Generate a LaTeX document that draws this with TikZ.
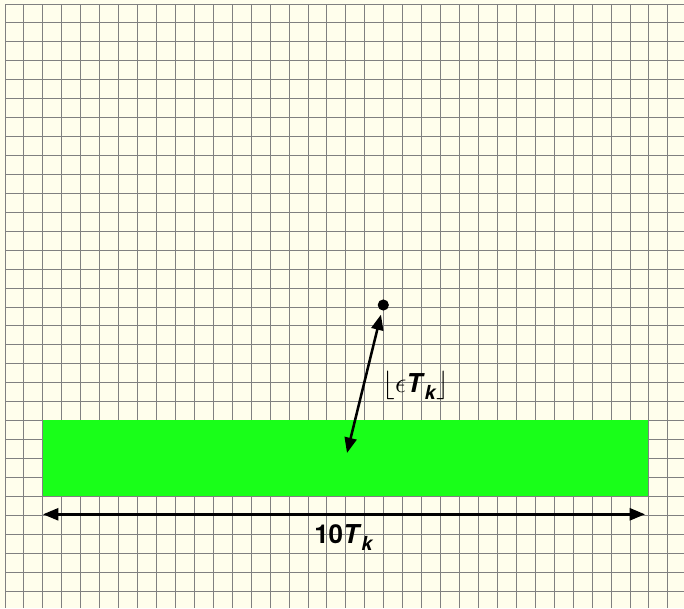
\RequirePackage{fix-cm}
\documentclass[tikz,border=0pt]{standalone}
\usepackage{fontspec}
\setmainfont{TeX Gyre Heros}
\usetikzlibrary{arrows.meta}
\definecolor{paper}{RGB}{255,254,236}
\definecolor{bandgreen}{RGB}{25,255,25}
\definecolor{gridgray}{RGB}{128,128,128}
\newcommand{\largemath}[1]{{\fontsize{21.5}{25}\selectfont$#1$}}
\begin{document}
\begin{tikzpicture}[x=0.75pt,y=-0.75pt,
  gridline/.style={draw=gridgray,line width=0.75pt},
  dimarrow/.style={line width=1.9pt,{Triangle[length=11.5pt,width=9pt]}-{Triangle[length=11.5pt,width=9pt]}},
  lbl/.style={inner sep=0pt,anchor=base west,font=\fontsize{19.5}{23}\selectfont}]
\useasboundingbox (0,0) rectangle (684,608);
\fill[paper] (0,0) rectangle (684,608);
\foreach \k in {0,...,35}
  \draw[gridline] ({5+18.94*\k},4) -- ({5+18.94*\k},608);
\foreach \k in {0,...,31}
  \draw[gridline] (5,{4+18.94*\k}) -- (684,{4+18.94*\k});
\fill[bandgreen] (43.3,420.3) rectangle (648.3,495.7);
\node[circle,fill=black,minimum size=8.4pt,inner sep=0pt] (dot) at (383.3,305) {};
\coordinate (tipB) at (347,453);
\draw[dimarrow,shorten <=3pt] (dot) -- (tipB);
\coordinate (hl) at (43,514.3);
\coordinate (hr) at (645,514.3);
\draw[dimarrow] (hl) -- (hr);
\node[lbl] (eps) at (382,392) {\largemath{\lfloor\epsilon}\textbf{\textit{T}}\raisebox{-5.5pt}{\fontsize{14.5}{17}\selectfont\textbf{\textit{k}}}\largemath{\rfloor}};
\node[lbl] (ten) at (314,543) {\textbf{10\textit{T}}\raisebox{-5.5pt}{\fontsize{14.5}{17}\selectfont\textbf{\textit{k}}}};
\end{tikzpicture}
\end{document}
